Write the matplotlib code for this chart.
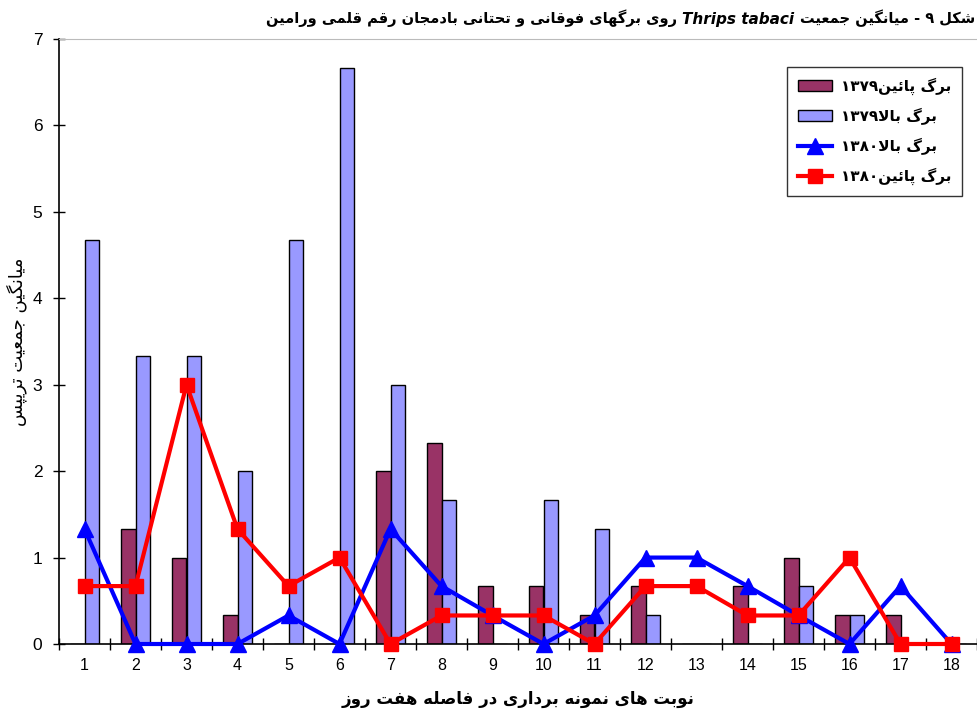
import re
import numpy as np
import matplotlib
matplotlib.use("Agg")
import matplotlib.pyplot as plt

# data
samples = [str(i) for i in range(1, 19)]
lower_1379 = [0, 1.33, 1.0, 0.33, 0, 0, 2.0, 2.33, 0.67, 0.67, 0.33, 0.67, 0, 0.67, 1.0, 0.33, 0.33, 0]
upper_1379 = [4.67, 3.33, 3.33, 2.0, 4.67, 6.67, 3.0, 1.67, 0, 1.67, 1.33, 0.33, 0, 0, 0.67, 0.33, 0, 0]
upper_1380 = [1.33, 0, 0, 0, 0.33, 0, 1.33, 0.67, 0.33, 0, 0.33, 1.0, 1.0, 0.67, 0.33, 0, 0.67, 0]
lower_1380 = [0.67, 0.67, 3.0, 1.33, 0.67, 1.0, 0, 0.33, 0.33, 0.33, 0, 0.67, 0.67, 0.33, 0.33, 1.0, 0, 0]

labels = ["برگ پائین۱۳۷۹", "برگ بالا۱۳۷۹", "برگ بالا۱۳۸۰", "برگ پائین۱۳۸۰"]
title_right = "شکل ۹ - میانگین جمعیت"
title_species = "Thrips tabaci"
title_left = "روی برگهای فوقانی و تحتانی بادمجان رقم قلمی ورامین"
xlabel = "نوبت های نمونه برداری در فاصله هفت روز"
ylabel = "میانگین جمعیت تریپس"

# --- minimal Persian shaping + bidi (matplotlib does no shaping itself) ---
# isolated, final, initial, medial
FORMS = {
    'ا': (0xFE8D, 0xFE8E, None, None), 'ب': (0xFE8F, 0xFE90, 0xFE91, 0xFE92),
    'ت': (0xFE95, 0xFE96, 0xFE97, 0xFE98), 'ج': (0xFE9D, 0xFE9E, 0xFE9F, 0xFEA0),
    'ح': (0xFEA1, 0xFEA2, 0xFEA3, 0xFEA4), 'د': (0xFEA9, 0xFEAA, None, None),
    'ر': (0xFEAD, 0xFEAE, None, None), 'ز': (0xFEAF, 0xFEB0, None, None),
    'س': (0xFEB1, 0xFEB2, 0xFEB3, 0xFEB4), 'ش': (0xFEB5, 0xFEB6, 0xFEB7, 0xFEB8),
    'ص': (0xFEB9, 0xFEBA, 0xFEBB, 0xFEBC), 'ع': (0xFEC9, 0xFECA, 0xFECB, 0xFECC),
    'ف': (0xFED1, 0xFED2, 0xFED3, 0xFED4), 'ق': (0xFED5, 0xFED6, 0xFED7, 0xFED8),
    'ل': (0xFEDD, 0xFEDE, 0xFEDF, 0xFEE0), 'م': (0xFEE1, 0xFEE2, 0xFEE3, 0xFEE4),
    'ن': (0xFEE5, 0xFEE6, 0xFEE7, 0xFEE8), 'ه': (0xFEE9, 0xFEEA, 0xFEEB, 0xFEEC),
    'و': (0xFEED, 0xFEEE, None, None), 'ئ': (0xFE89, 0xFE8A, 0xFE8B, 0xFE8C),
    'پ': (0xFB56, 0xFB57, 0xFB58, 0xFB59), 'گ': (0xFB92, 0xFB93, 0xFB94, 0xFB95),
    'ک': (0xFB8E, 0xFB8F, 0xFB90, 0xFB91), 'ی': (0xFBFC, 0xFBFD, 0xFBFE, 0xFBFF),
}


def shape(s):
    out = []
    prev_joins = False
    i = 0
    while i < len(s):
        c = s[i]
        if c not in FORMS:
            out.append(c)
            prev_joins = False
            i += 1
            continue
        if c == 'ل' and i + 1 < len(s) and s[i + 1] == 'ا':
            out.append(chr(0xFEFC if prev_joins else 0xFEFB))
            prev_joins = False
            i += 2
            continue
        iso, fin, ini, med = FORMS[c]
        nxt = s[i + 1] if i + 1 < len(s) else ''
        can_left = ini is not None and nxt in FORMS
        if prev_joins and can_left:
            g = med
        elif prev_joins:
            g = fin
        elif can_left:
            g = ini
        else:
            g = iso
        out.append(chr(g))
        prev_joins = can_left
        i += 1
    return ''.join(out)


def fa(s):
    runs = re.findall(r'[0-9\u06F0-\u06F9A-Za-z]+|[^0-9\u06F0-\u06F9A-Za-z]+', shape(s))
    return ''.join(r if re.match(r'[0-9\u06F0-\u06F9A-Za-z]', r) else r[::-1]
                   for r in reversed(runs))


plt.rcParams['font.family'] = ['DejaVu Sans']

fig = plt.figure(figsize=(9.77, 7.2), dpi=100)
ax = fig.add_axes([59 / 977, 1 - 644 / 720, 1 - 59 / 977, (644 - 39) / 720])

x = np.arange(len(samples))
w = 0.285
b1 = ax.bar(x - w / 2, lower_1379, w, color='#993366', edgecolor='black', linewidth=1, zorder=2)
b2 = ax.bar(x + w / 2, upper_1379, w, color='#9999FF', edgecolor='black', linewidth=1, zorder=2)
l1, = ax.plot(x, upper_1380, color='#0000FF', lw=3, marker='^', ms=11, clip_on=False, zorder=3)
l2, = ax.plot(x, lower_1380, color='#FF0000', lw=3, marker='s', ms=10, clip_on=False, zorder=4)

ax.set_xlim(-0.5, len(samples) - 0.5)
ax.set_ylim(0, 7)
ax.set_yticks(range(8))
ax.set_xticks(x)
ax.set_xticklabels(samples, family='Liberation Sans', fontsize=11.5)
ax.set_xticks(np.arange(-0.5, len(samples)), minor=True)
ax.tick_params(axis='x', which='major', length=0, pad=10)
ax.tick_params(axis='x', which='minor', length=8, direction='inout', width=1)
ax.tick_params(axis='y', length=8, direction='inout', width=1, labelsize=12.5, pad=8)
for t in ax.get_yticklabels():
    t.set_family('Liberation Sans')

ax.spines['right'].set_visible(False)
ax.spines['top'].set_color('#bbbbbb')
ax.spines['left'].set_linewidth(1.2)
ax.spines['bottom'].set_linewidth(1.2)

ax.set_xlabel(fa(xlabel), fontsize=12, fontweight='bold', labelpad=12)
ax.set_ylabel(fa(ylabel), fontsize=13, labelpad=4)

leg = ax.legend([b1, b2, l1, l2], [fa(s) for s in labels],
                loc='upper right', bbox_to_anchor=(962 / 977, 1 - 67 / 720),
                bbox_transform=fig.transFigure, borderaxespad=0, frameon=True,
                fancybox=False, prop={'weight': 'bold', 'size': 11}, handlelength=2.2,
                labelspacing=0.85, borderpad=0.7, handletextpad=0.6)
leg.get_frame().set_edgecolor('black')
leg.get_frame().set_linewidth(1)

t1 = fig.text(975 / 977, 1 - 27 / 720, fa(title_right), ha='right', va='bottom',
              fontsize=10.5, fontweight='bold')
t2 = ax.annotate(title_species, xy=(0, 0), xycoords=t1, xytext=(-4, 0),
                 textcoords='offset points', ha='right', va='bottom',
                 fontsize=11, fontweight='bold', style='italic')
t3 = ax.annotate(fa(title_left), xy=(0, 0), xycoords=t2, xytext=(-4, 0),
                 textcoords='offset points', ha='right', va='bottom',
                 fontsize=10.5, fontweight='bold')

fig.savefig('out.png', dpi=100)
